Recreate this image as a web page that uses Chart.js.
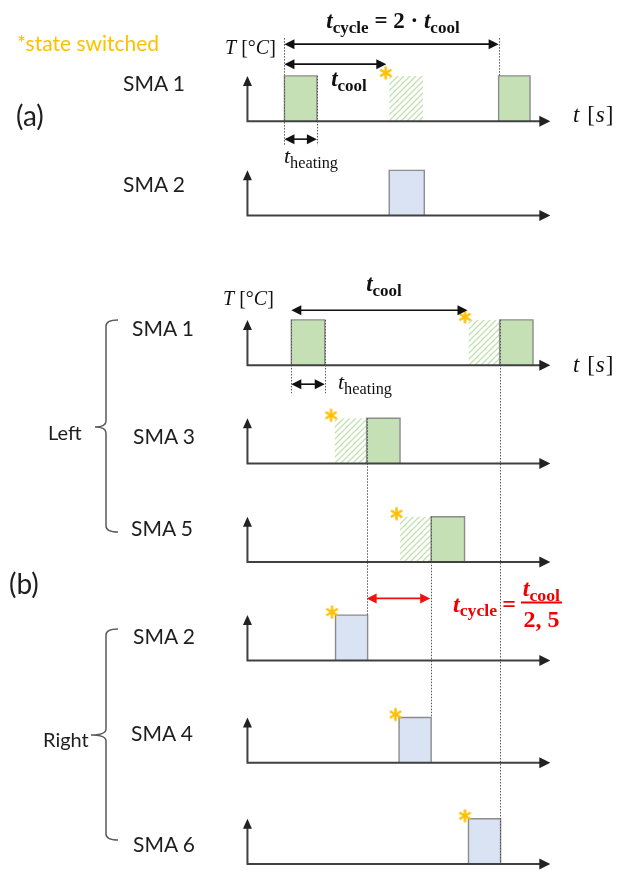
<!DOCTYPE html>
<html><head><meta charset="utf-8">
<script src="https://cdn.jsdelivr.net/npm/chart.js@4/dist/chart.umd.min.js"></script>
<style>
html,body{margin:0;padding:0;background:#fff;}
#wrap{position:relative;width:621px;height:875px;overflow:hidden;background:#fff;}
#c{position:absolute;left:0;top:0;}
.lbl{position:absolute;white-space:nowrap;font-family:Lato,'Open Sans',sans-serif;color:#1e1e1e;line-height:1;transform:translateY(-50%);}
.math{position:absolute;white-space:nowrap;font-family:'Liberation Serif','DejaVu Serif',serif;color:#111;line-height:1;}
.math i{font-style:italic;}
.math sub{font-size:0.74em;vertical-align:baseline;position:relative;top:0.28em;}
.cc{transform:translate(-50%,-50%);}
.lc{transform:translateY(-50%);}
.red{color:#f20000;}
</style></head>
<body><div id="wrap"><canvas id="c" width="621" height="875"></canvas></div>
<script>
// ---------------- DATA (time in units of ~t_heating, temperature normalised) ----------------
const rowLabels = ['SMA 1','SMA 2','SMA 1','SMA 3','SMA 5','SMA 2','SMA 4','SMA 6'];
const heatPhases = [
  [[1.13,2.12],[7.67,8.63]],
  [[4.33,5.40]],
  [[1.34,2.36],[7.70,8.72]],
  [[3.64,4.66]],
  [[5.61,6.63]],
  [[2.69,3.67]],
  [[4.63,5.61]],
  [[6.75,7.73]]
];
const switchedPhases = [
  [[4.33,5.37]], [], [[6.75,7.70]], [[2.66,3.64]], [[4.66,5.61]], [], [], []
];
const switchTimes = [[4.33],[],[6.75],[2.66],[4.66],[2.69],[4.63],[6.75]];
const tempHigh = 1;
const axisEnd = 9.25;
const aCycle = [1.13, 7.67];
const aCool = [1.13, 4.24];
const aHeating = [1.13, 2.12];
const bCool = [1.34, 6.72];
const bHeating = [1.34, 2.36];
const bCycle = [3.64, 5.58];

// ---------------- LAYOUT / STYLE ----------------
const W = 621, H = 875;
const PX_PER_UNIT = 33.5, ORIGIN_X = 246, AMP = 46;
const rowBase = [116,212,364,464,564,664,768,871];
const rowKind = ['g','b','g','g','g','b','b','b'];
const labelX = [123,123,132,133,131,133,131,133];
const labelY = [82,183,327,435,527,635,732,843];
const GREEN = '#c5e0b4', BLUE = '#dae3f3', EDGE = '#8c8c8c';

const ctx0 = document.getElementById('c').getContext('2d');
function makeHatch(){
  const t = document.createElement('canvas'); t.width = 6; t.height = 6;
  const g = t.getContext('2d');
  g.strokeStyle = '#c3e0b0'; g.lineWidth = 1.3;
  g.beginPath();
  g.moveTo(0,6); g.lineTo(6,0);
  g.moveTo(-1,1); g.lineTo(1,-1);
  g.moveTo(5,7); g.lineTo(7,5);
  g.stroke();
  return ctx0.createPattern(t,'repeat');
}
function makeStar(){
  const c = document.createElement('canvas'); c.width = 26; c.height = 26;
  const g = c.getContext('2d');
  g.strokeStyle = '#ffc000'; g.lineWidth = 2.5;
  const cx = 13-3.5, cy = 13-3, R = 6.5;
  for (let k=0;k<3;k++){
    const a = Math.PI/2 + k*Math.PI/3;
    g.beginPath();
    g.moveTo(cx+R*Math.cos(a), cy+R*Math.sin(a));
    g.lineTo(cx-R*Math.cos(a), cy-R*Math.sin(a));
    g.stroke();
  }
  return c;
}
const HATCH = makeHatch(), STAR = makeStar();

const datasets = [];
rowBase.forEach((b, r) => {
  const yid = 'y'+r;
  heatPhases[r].forEach(([s,e]) => {
    datasets.push({
      yAxisID: yid,
      data: [{x:s,y:0},{x:s,y:tempHigh},{x:e,y:tempHigh},{x:e,y:0}],
      fill: {value: 0},
      backgroundColor: rowKind[r]==='g' ? GREEN : BLUE,
      borderColor: EDGE, borderWidth: 1.4,
      pointRadius: 0, tension: 0, order: 2
    });
  });
  switchedPhases[r].forEach(([s,e]) => {
    datasets.push({
      yAxisID: yid,
      data: [{x:s,y:0},{x:s,y:tempHigh},{x:e,y:tempHigh},{x:e,y:0}],
      fill: {value: 0},
      backgroundColor: HATCH,
      borderColor: 'rgba(0,0,0,0)', borderWidth: 0,
      pointRadius: 0, tension: 0, order: 3
    });
  });
  if (switchTimes[r].length){
    datasets.push({
      yAxisID: yid,
      data: switchTimes[r].map(t => ({x:t, y:tempHigh})),
      showLine: false, pointStyle: STAR, pointRadius: 6, order: -1
    });
  }
});

const scales = {
  x: {type:'linear', display:false, min: -ORIGIN_X/PX_PER_UNIT, max: (W-ORIGIN_X)/PX_PER_UNIT}
};
rowBase.forEach((b,r) => {
  scales['y'+r] = {type:'linear', display:false, min:(b-H)/AMP, max:b/AMP};
});

function head(ctx, x, y, dx, dy, len, hw, color){
  ctx.save(); ctx.fillStyle = color;
  ctx.beginPath();
  ctx.moveTo(x, y);
  ctx.lineTo(x - dx*len - dy*hw, y - dy*len + dx*hw);
  ctx.lineTo(x - dx*len + dy*hw, y - dy*len - dx*hw);
  ctx.closePath(); ctx.fill(); ctx.restore();
}
function dblArrow(ctx, x1, x2, y, color){
  ctx.save(); ctx.strokeStyle = color; ctx.lineWidth = 1.6;
  ctx.beginPath(); ctx.moveTo(x1+8, y); ctx.lineTo(x2-8, y); ctx.stroke();
  head(ctx, x1, y, -1, 0, 10, 5, color);
  head(ctx, x2, y, 1, 0, 10, 5, color);
  ctx.restore();
}
function dotted(ctx, x, y1, y2){
  ctx.save(); ctx.strokeStyle = '#555'; ctx.lineWidth = 1;
  ctx.setLineDash([1.5,1.5]);
  ctx.beginPath(); ctx.moveTo(Math.round(x)+0.5, y1); ctx.lineTo(Math.round(x)+0.5, y2); ctx.stroke();
  ctx.restore();
}
function brace(ctx, x, yTop, yBot, yMid, tipX){
  ctx.save(); ctx.strokeStyle = '#5a5a5a'; ctx.lineWidth = 1.5;
  ctx.beginPath();
  ctx.moveTo(x+12, yTop);
  ctx.quadraticCurveTo(x, yTop, x, yTop+6);
  ctx.lineTo(x, yMid-6);
  ctx.quadraticCurveTo(x, yMid, tipX, yMid);
  ctx.quadraticCurveTo(x, yMid, x, yMid+6);
  ctx.lineTo(x, yBot-6);
  ctx.quadraticCurveTo(x, yBot, x+12, yBot);
  ctx.stroke(); ctx.restore();
}

const diagram = {
  id: 'diagram',
  afterDatasetsDraw(chart){
    const ctx = chart.ctx, xs = chart.scales.x;
    const X = v => xs.getPixelForValue(v);
    const Y = (r, v) => chart.scales['y'+r].getPixelForValue(v);
    const a0 = heatPhases[0];
    dotted(ctx, X(a0[0][0]), Y(0,0)-83, Y(0,0)+24);
    dotted(ctx, X(a0[0][1]), Y(0,tempHigh), Y(0,0)+24);
    dotted(ctx, X(a0[1][0]), Y(0,0)-83, Y(0,tempHigh));
    const b1 = heatPhases[2];
    dotted(ctx, X(b1[0][0]), Y(2,tempHigh), Y(2,0)+28);
    dotted(ctx, X(b1[0][1]), Y(2,tempHigh), Y(2,0)+28);
    dotted(ctx, X(b1[1][0]), Y(2,tempHigh), Y(7,0));
    dotted(ctx, X(heatPhases[3][0][0]), Y(3,tempHigh), Y(5,tempHigh));
    dotted(ctx, X(heatPhases[4][0][0]), Y(4,tempHigh), Y(6,tempHigh));
    ctx.save();
    ctx.strokeStyle = '#404040'; ctx.lineWidth = 2;
    rowBase.forEach((b,r) => {
      const x0 = X(0), y0 = Y(r,0), xe = X(axisEnd), yt = Y(r,tempHigh);
      ctx.beginPath();
      ctx.moveTo(x0, yt+8); ctx.lineTo(x0, y0); ctx.lineTo(xe-8, y0);
      ctx.stroke();
      head(ctx, xe, y0, 1, 0, 11, 5.5, '#222');
      head(ctx, x0, yt, 0, -1, 10, 4.5, '#222');
    });
    ctx.restore();
    dblArrow(ctx, X(aCycle[0]), X(aCycle[1]), Y(0,0)-77, '#111');
    dblArrow(ctx, X(aCool[0]), X(aCool[1]), Y(0,0)-57, '#111');
    dblArrow(ctx, X(aHeating[0]), X(aHeating[1]), Y(0,0)+18, '#111');
    dblArrow(ctx, X(bCool[0]), X(bCool[1]), Y(2,0)-55, '#111');
    dblArrow(ctx, X(bHeating[0]), X(bHeating[1]), Y(2,0)+19, '#111');
    dblArrow(ctx, X(bCycle[0]), X(bCycle[1]), Y(5,0)-62, '#f01010');
    brace(ctx, 106, 320, 532, 427, 95);
    brace(ctx, 106, 629, 840, 735, 91);
  }
};

new Chart(ctx0, {
  type: 'line',
  data: { datasets },
  options: {
    responsive: false, animation: false, devicePixelRatio: 1, events: [],
    layout: {padding: 0},
    scales,
    plugins: { legend:{display:false}, tooltip:{enabled:false} }
  },
  plugins: [diagram]
});

// ---------------- TEXT ----------------
const wrap = document.getElementById('wrap');
function addHTML(cls, style, html){
  const d = document.createElement('div');
  d.className = cls; d.setAttribute('style', style); d.innerHTML = html;
  wrap.appendChild(d); return d;
}
rowLabels.forEach((t,r) => addHTML('lbl', `left:${labelX[r]}px;top:${labelY[r]}px;font-size:21px;`, t));
addHTML('lbl', 'left:17px;top:42px;font-size:21px;color:#ffc000;', '*state switched');
addHTML('lbl', 'left:16px;top:115px;font-size:28px;', '(a)');
addHTML('lbl', 'left:9px;top:583px;font-size:28px;', '(b)');
addHTML('lbl', 'left:48px;top:432px;font-size:20px;', 'Left');
addHTML('lbl', 'left:43px;top:739px;font-size:20px;', 'Right');

addHTML('math cc', 'left:393px;top:20px;font-size:23px;', '<b><i>t</i><sub>cycle</sub> = 2 · <i>t</i><sub>cool</sub></b>');
addHTML('math cc', 'left:349px;top:78px;font-size:23px;', '<b><i>t</i><sub>cool</sub></b>');
addHTML('math cc', 'left:311px;top:156px;font-size:22px;', '<i>t</i><sub>heating</sub>');
addHTML('math lc', 'left:225px;top:47px;font-size:20px;', '<i>T</i> [°<i>C</i>]');
addHTML('math lc', 'left:573px;top:114px;font-size:23px;letter-spacing:1px;', '<i>t</i> [<i>s</i>]');
addHTML('math lc', 'left:223px;top:298px;font-size:20px;', '<i>T</i> [°<i>C</i>]');
addHTML('math lc', 'left:573px;top:364px;font-size:23px;letter-spacing:1px;', '<i>t</i> [<i>s</i>]');
addHTML('math cc', 'left:384px;top:283px;font-size:23px;', '<b><i>t</i><sub>cool</sub></b>');
addHTML('math cc', 'left:365px;top:382px;font-size:22px;', '<i>t</i><sub>heating</sub>');
addHTML('math lc red', 'left:453px;top:603px;font-size:24px;display:flex;align-items:center;',
  '<b><i>t</i><sub>cycle</sub></b><b style="margin:0 5px;">=</b>' +
  '<span style="display:inline-flex;flex-direction:column;align-items:center;">' +
  '<b style="border-bottom:2px solid #f20000;padding:0 2px 2px;"><i>t</i><sub>cool</sub></b>' +
  '<b style="padding-top:3px;">2, 5</b></span>');
</script>
</body></html>
